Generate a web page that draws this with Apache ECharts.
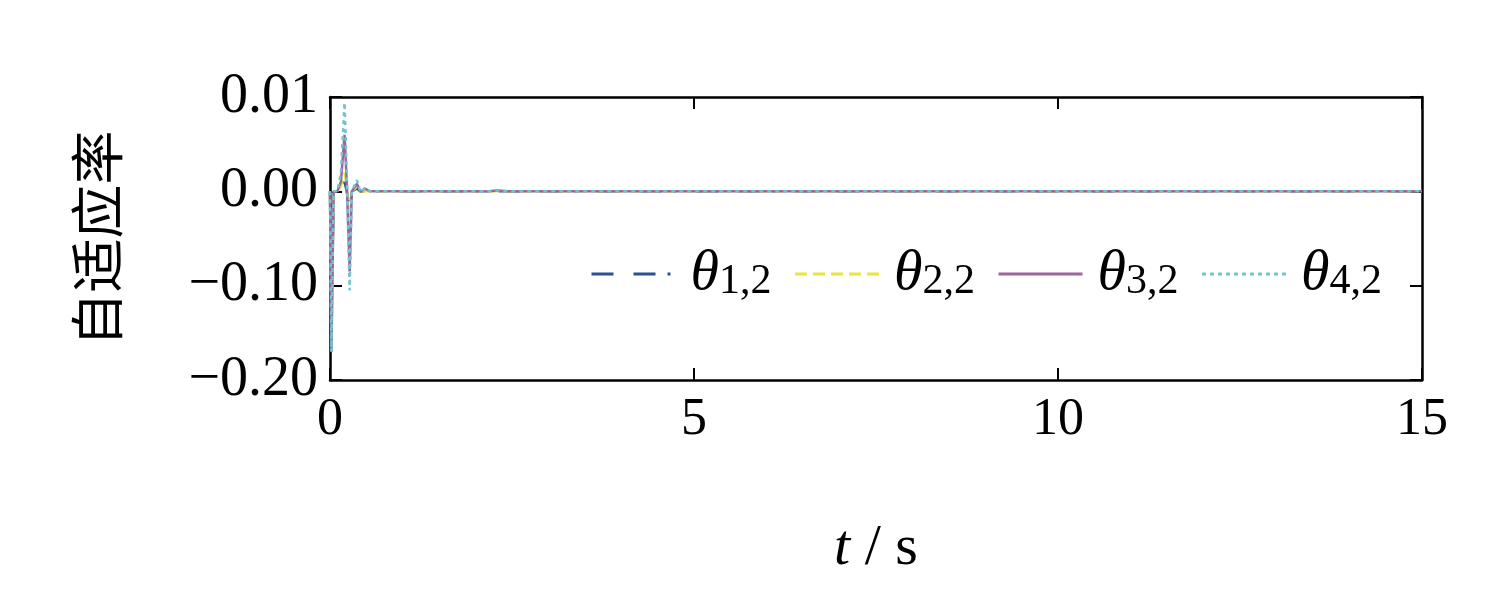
<!DOCTYPE html>
<html>
<head>
<meta charset="utf-8">
<script src="https://cdn.jsdelivr.net/npm/echarts@6/dist/echarts.min.js"></script>
<style>html,body{margin:0;padding:0;background:#fff}#c{width:1496px;height:603px}</style>
</head>
<body>
<div id="c"></div>
<script>
// time samples (s)
var tValues = [0, 0.02, 0.05, 0.1, 0.15, 0.2, 0.23, 0.27, 0.3, 0.37, 0.42, 0.48, 0.55, 1, 2, 2.15, 2.3, 2.45, 3, 15];
// adaptive rates
var theta12 = [0, -0.15, 0, 0, 0.0003, 0.001, 0, -0.02, 0, 0.0003, -0.0003, 0, 0, 0, 0, 0, 0, 0, 0, 0];
var theta22 = [0, -0.16, 0, 0, 0.0005, 0.002, 0.0005, -0.03, 0, 0.0005, -0.0005, 0, 0, 0, 0, 0, 0, 0, 0, 0];
var theta32 = [0, -0.17, 0, 0, 0.001, 0.006, 0.001, -0.085, 0, 0.0008, -0.0008, 0.0003, 0, 0, 0, -0.0002, 0.0001, 0, 0, 0];
var theta42 = [0, -0.17, 0, 0, 0.002, 0.0094, 0.002, -0.105, 0, 0.0012, -0.0012, 0.0004, 0, 0, 0, -0.0002, 0.0001, 0, 0, 0];
var yTickValues = [1, 0, -1, -2];
var yTickLabels = ['0.01', '0.00', '\u22120.10', '\u22120.20'];
var xTicks = [0, 5, 10, 15];
var seriesNames = ['\u03b81,2', '\u03b82,2', '\u03b83,2', '\u03b84,2'];
var subs = ['1,2', '2,2', '3,2', '4,2'];

// piecewise axis scale: positive part spans 0..0.01, negative part 0..-0.2 (two segments of -0.1)
function toAxis(v) { return v >= 0 ? v * 100 : v * 10; }
function pairs(arr) { return tValues.map(function (t, i) { return [t, toAxis(arr[i])]; }); }

var serif = 'Liberation Serif';
var chart = echarts.init(document.getElementById('c'));
var styles = [
  { color: '#2b5191', type: [22, 20, 22, 12, 3, 20] },
  { color: '#e4e83a', type: [12, 6] },
  { color: '#9b669b', type: 'solid' },
  { color: '#72c4d0', type: [4, 4] }
];
var datas = [theta12, theta22, theta32, theta42];
var series = datas.map(function (d, i) {
  return {
    name: seriesNames[i], type: 'line', data: pairs(d), showSymbol: false, symbol: 'none',
    lineStyle: { color: styles[i].color, width: 2.5, type: styles[i].type },
    itemStyle: { color: styles[i].color }, z: 2 + i, animation: false
  };
});
function axisLine() { return { show: true, onZero: false, lineStyle: { color: '#000', width: 2.5 } }; }
var tick = { show: true, inside: true, length: 12, lineStyle: { color: '#000', width: 2 } };
chart.setOption({
  animation: false,
  grid: { left: 330, right: 74, top: 97, bottom: 223, show: false },
  legend: {
    left: 585, top: 240, itemWidth: 84, itemHeight: 14, itemGap: 22,
    itemStyle: { opacity: 0 },
    lineStyle: { width: 3 },
    data: seriesNames,
    formatter: function (n) { var i = seriesNames.indexOf(n); return '{t|\u03b8}{s|' + subs[i] + '}'; },
    textStyle: {
      padding: [0, 0, 0, 10],
      rich: {
        t: { fontFamily: serif, fontStyle: 'italic', fontSize: 58, color: '#000' },
        s: { fontFamily: serif, fontSize: 42, color: '#000', verticalAlign: 'bottom' }
      }
    }
  },
  xAxis: [{
    type: 'value', min: 0, max: 15, interval: 5,
    axisLine: axisLine(), axisTick: tick, splitLine: { show: false },
    axisLabel: { fontFamily: serif, fontSize: 52, color: '#000', margin: 14 },
    name: '{i|t} / s', nameLocation: 'middle', nameGap: 140,
    nameTextStyle: { fontFamily: serif, fontSize: 58, color: '#000', rich: { i: { fontFamily: serif, fontStyle: 'italic', fontSize: 58, color: '#000' } } }
  }, {
    type: 'value', min: 0, max: 15, interval: 5, position: 'top',
    axisLine: axisLine(), axisTick: tick, axisLabel: { show: false }, splitLine: { show: false }
  }],
  yAxis: [{
    type: 'value', min: -2, max: 1, interval: 1,
    axisLine: axisLine(), axisTick: tick, splitLine: { show: false },
    axisLabel: {
      fontFamily: serif, fontSize: 56, color: '#000', margin: 12,
      formatter: function (v) { var k = yTickValues.indexOf(v); return k >= 0 ? yTickLabels[k] : ''; }
    },
    name: '自适应率', nameLocation: 'middle', nameGap: 206, nameRotate: 90,
    nameTextStyle: { fontFamily: 'Noto Sans CJK SC', fontSize: 54, color: '#000' }
  }, {
    type: 'value', min: -2, max: 1, interval: 1, position: 'right',
    axisLine: axisLine(), axisTick: tick, axisLabel: { show: false }, splitLine: { show: false }
  }],
  series: series
});
</script>
</body>
</html>
